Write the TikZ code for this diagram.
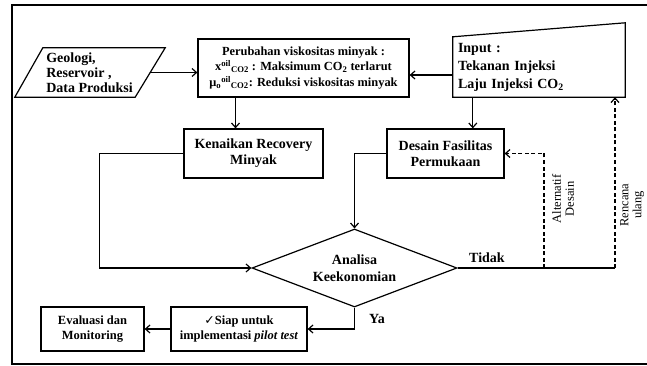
\documentclass[tikz,border=0pt]{standalone}
\usepackage{fontspec}
\setmainfont{Liberation Serif}
\newfontfamily\symfont{DejaVu Sans}
\usetikzlibrary{arrows.meta,shapes.geometric}

\tikzset{
	box/.style={draw, line width=1.2pt, align=center, inner sep=0pt},
	bigtext/.style={font=\bfseries\fontsize{14}{16}\selectfont},
	smalltext/.style={font=\bfseries\fontsize{12.5}{15}\selectfont},
	arr/.style={line width=1.2pt, -{Straight Barb[length=4.5pt,width=8pt]}},
	link/.style={line width=1.2pt},
	dashlink/.style={line width=1.2pt, dash pattern=on 4pt off 2.5pt},
	sidelabel/.style={rotate=90, align=center, font=\fontsize{12.5}{13}\selectfont}
}

\begin{document}
\begin{tikzpicture}[x=1pt, y=-1pt]
			%%%%% FRAME %%%%%
			\useasboundingbox (0,0) rectangle (647,366);
			\draw[line width=1.5pt] (647,5) -- (12,5) -- (12,364) -- (647,364);
			
			%%%%% TOP ROW %%%%%
			\node[align=left, minimum width=121pt, minimum height=49pt, inner sep=0pt, font=\bfseries\fontsize{14}{15}\selectfont] (geo) at (89.5,72.5) {Geologi,\\Reservoir ,\\Data Produksi};
			\draw[link] ([xshift=14pt]geo.north west) -- ([xshift=15pt]geo.north east) -- ([xshift=-15pt]geo.south east) -- ([xshift=-14pt]geo.south west) -- cycle;
			
			\node[box, minimum width=211pt, minimum height=58pt, font=\bfseries\fontsize{12.4}{15.5}\selectfont] (perub) at (303.5,68) {Perubahan viskositas minyak :\\x\textsuperscript{oil}\textsubscript{CO2} : Maksimum CO\textsubscript{2} terlarut\\μ\textsubscript{o}\textsuperscript{oil}\textsubscript{CO2}: Reduksi viskositas minyak};
			
			\node[text width=162pt, align=left, minimum height=60pt, inner sep=5pt, font=\bfseries\fontsize{14}{18}\selectfont] (inp) at (539,67) {Input :\\Tekanan Injeksi\\Laju Injeksi CO\textsubscript{2}};
			\draw[link] (inp.south west) -- (inp.north west) -- ([yshift=14pt]inp.north east) -- (inp.south east) -- cycle;
			
			%%%%% MIDDLE ROW %%%%%
			\node[box, bigtext, minimum width=139pt, minimum height=49pt] (kenai) at (253.5,153.5) {Kenaikan Recovery\\Minyak};
			\node[box, bigtext, minimum width=117pt, minimum height=49pt] (desain) at (445.5,153.5) {Desain Fasilitas\\Permukaan};
			
			\node[draw, diamond, line width=1.2pt, aspect=2.6, inner sep=0pt, minimum width=205pt, minimum height=78pt, align=center, font=\bfseries\fontsize{14}{17}\selectfont] (ana) at (354.5,268) {Analisa\\Keekonomian};
			
			%%%%% BOTTOM ROW %%%%%
			\node[box, smalltext, minimum width=136pt, minimum height=44pt] (siap) at (239,329) {{\symfont ✓}Siap untuk\\implementasi \textit{pilot test}};
			\node[box, smalltext, minimum width=103pt, minimum height=44pt] (eval) at (92.5,329) {Evaluasi dan\\Monitoring};
			
			%%%%% ARROWS %%%%%
			\draw[arr] (geo.east) -- (geo.east -| perub.west);
			\draw[arr] ([yshift=-8pt]inp.west) -- ([yshift=-8pt]inp.west -| perub.east);
			\draw[arr] ([xshift=-18pt]kenai.north |- perub.south) -- ([xshift=-18pt]kenai.north);
			\draw[arr] ([xshift=20pt]inp.south west) -- ([xshift=20pt]inp.south west |- desain.north);
			\draw[arr] (kenai.west) -- ++(-84,0) |- (ana.west);
			\draw[arr] (desain.west) -| (ana.north);
			
			\coordinate (alt) at (544,268);
			\coordinate (ren) at (615,268);
			\draw[link] (ana.east) -- (ren);
			\draw[dashlink, arr] (alt) |- (desain.east);
			\draw[dashlink, arr] (ren) -- (ren |- inp.south);
			
			\draw[arr] (ana.south) |- (siap.east);
			\draw[arr] (siap.west) -- (eval.east);
			
			%%%%% LABELS %%%%%
			\node[bigtext] (tidak) at (487,258) {Tidak};
			\node[bigtext] (ya) at (377,319) {Ya};
			\node[sidelabel] (altlbl) at (563,199) {Alternatif\\Desain};
			\node[sidelabel] (renlbl) at (632,205) {Rencana\\ulang};
\end{tikzpicture}
\end{document}
